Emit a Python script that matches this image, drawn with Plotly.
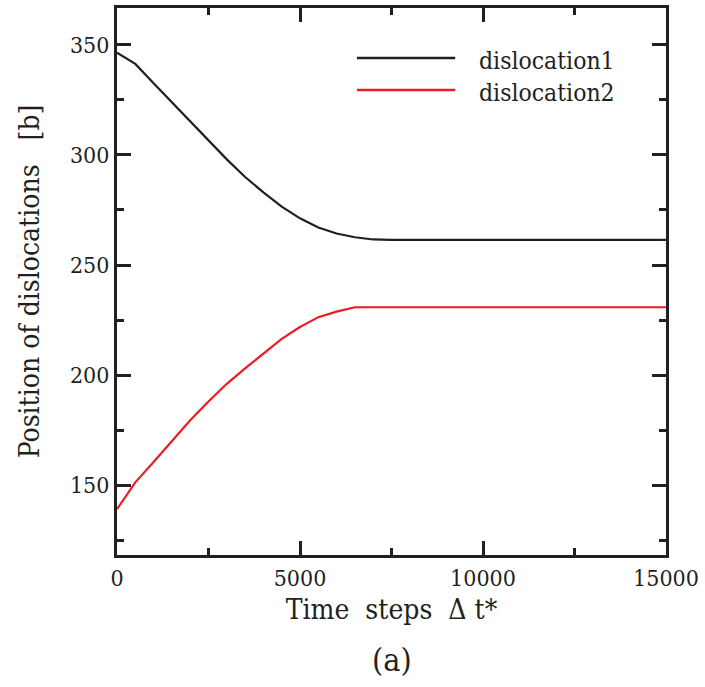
import plotly.graph_objects as go

time_steps = [0, 500, 1000, 1500, 2000, 2500, 3000, 3500, 4000, 4500, 5000, 5500,
              6000, 6500, 7000, 7500, 8000, 9000, 10000, 11000, 12000, 13000, 14000, 15000]
dislocation1 = [346.5, 341.4, 332.6, 324.0, 315.3, 306.5, 298.0, 290.0, 283.0, 276.5, 271.2, 267.0,
                264.3, 262.6, 261.6, 261.4, 261.4, 261.4, 261.4, 261.4, 261.4, 261.4, 261.4, 261.4]
dislocation2 = [139.0, 151.2, 160.5, 170.0, 179.4, 188.0, 196.0, 203.0, 209.8, 216.4, 221.8, 226.3,
                228.8, 230.8, 230.8, 230.8, 230.8, 230.8, 230.8, 230.8, 230.8, 230.8, 230.8, 230.8]
series_names = ["dislocation1", "dislocation2"]
series_colors = ["#231f20", "#ed1c24"]
x_ticks = [0, 5000, 10000, 15000]
y_ticks = [150, 200, 250, 300, 350]

FONT = "DejaVu Serif Condensed"

fig = go.Figure()
for name, vals, col in zip(series_names, [dislocation1, dislocation2], series_colors):
    fig.add_trace(go.Scatter(x=time_steps, y=vals, mode="lines", name=name,
                             line=dict(color=col, width=2.2), showlegend=False))

axis_common = dict(
    showline=True, linecolor="#231f20", linewidth=3, mirror="ticks",
    ticks="inside", ticklen=14, tickwidth=2.5, tickcolor="#231f20",
    showgrid=False, zeroline=False, automargin=False,
    tickfont=dict(family=FONT, size=23, color="#231f20"),
)

fig.update_xaxes(range=[0, 15000], tickvals=x_ticks, ticktext=[str(v) for v in x_ticks],
                 minor=dict(dtick=2500, ticks="inside", ticklen=7, tickwidth=2.5, tickcolor="#231f20"),
                 title=dict(text="Time  steps  \u0394 t*", font=dict(family=FONT, size=28, color="#231f20"), standoff=10),
                 **axis_common)
fig.update_yaxes(range=[118.2, 366.8], tickvals=y_ticks, ticktext=[str(v) for v in y_ticks],
                 minor=dict(dtick=25, tick0=0, ticks="inside", ticklen=7, tickwidth=2.5, tickcolor="#231f20"),
                 title=dict(text="Position of dislocations   [b]", font=dict(family=FONT, size=28, color="#231f20"), standoff=23),
                 **axis_common)

legend_y = [0.9086, 0.850]
for name, col, ly in zip(series_names, series_colors, legend_y):
    fig.add_shape(type="line", xref="paper", yref="paper", x0=0.437, x1=0.616, y0=ly, y1=ly,
                  line=dict(color=col, width=2.5))
    fig.add_annotation(xref="paper", yref="paper", x=0.656, y=ly - 0.004, text=name, showarrow=False,
                       xanchor="left", yanchor="middle",
                       font=dict(family=FONT, size=24.5, color="#231f20"))

fig.add_annotation(xref="paper", yref="paper", x=0.5, y=-0.192, text="(a)", showarrow=False,
                   xanchor="center", yanchor="middle", font=dict(family=FONT, size=32, color="#231f20"))

fig.update_layout(width=705, height=687, margin=dict(l=117, r=39, t=8, b=132),
                  plot_bgcolor="white", paper_bgcolor="white", showlegend=False)

fig.write_html("out.html")
